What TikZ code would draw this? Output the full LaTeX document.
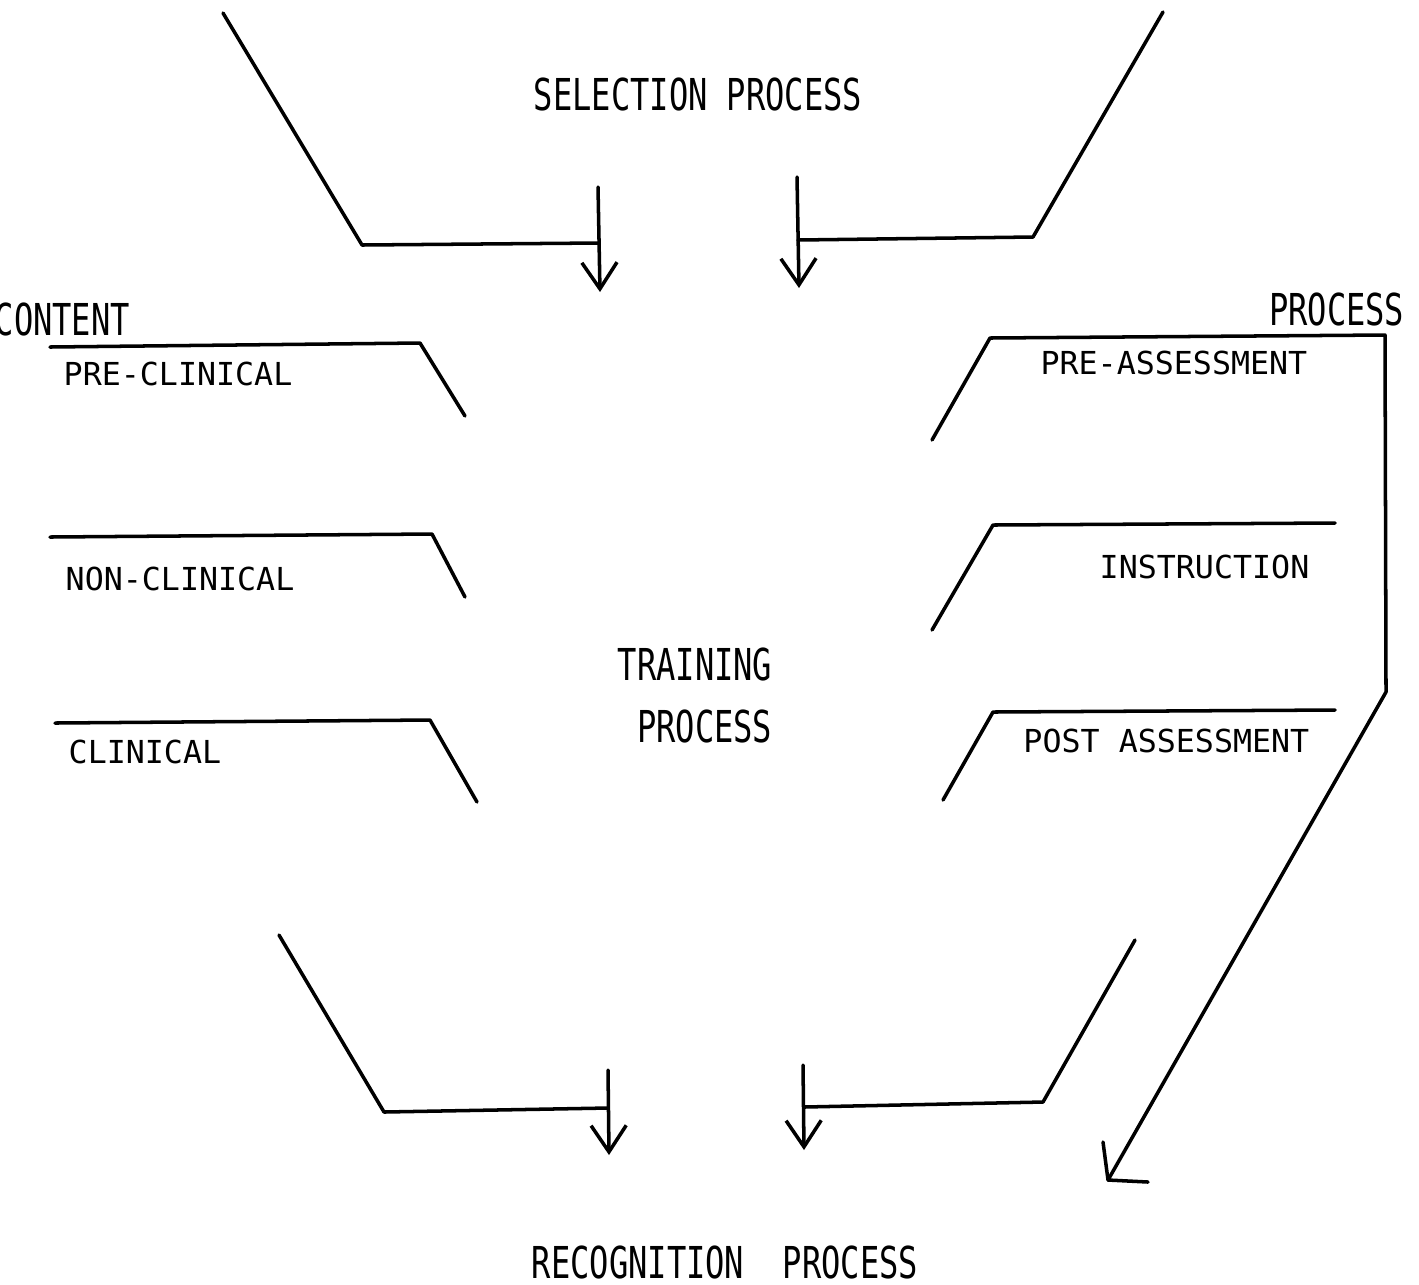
\documentclass[tikz,border=0pt]{standalone}
\usepackage{fontspec}
\usetikzlibrary{arrows.meta}
\newfontfamily\labelfont{DejaVu Sans Mono}
\newfontfamily\headfont[FakeStretch=0.73]{DejaVu Sans Mono}

\tikzset{
    flow/.style={line width=1pt, line join=round, line cap=round},
    drop/.style={flow, -{Straight Barb[length=7.5pt,width=10pt]}},
    head/.style={font=\headfont\fontsize{12.5}{14}\selectfont, inner sep=0pt},
    item/.style={font=\labelfont\fontsize{9}{11}\selectfont, inner sep=0pt},
}

\begin{document}
\begin{tikzpicture}[x=0.01cm,y=-0.01cm]
    \useasboundingbox (0,0) rectangle (1419,1284);

    % headings
    \node[head, anchor=base] (selection) at (698,110) {SELECTION PROCESS};
    \node[head, anchor=base west] (content) at (-6,335) {CONTENT};
    \node[head, anchor=base east] (process) at (1405,325) {PROCESS};
    \node[head, anchor=base east] (training) at (773,680) {TRAINING};
    \node[head, anchor=base east] (trainproc) at (773,742) {PROCESS};
    \node[head, anchor=base] (recognition) at (725,1278) {RECOGNITION\ \ PROCESS};

    % content items
    \node[item, anchor=base west] (preclin) at (63,385) {PRE-CLINICAL};
    \node[item, anchor=base west] (nonclin) at (65,590) {NON-CLINICAL};
    \node[item, anchor=base west] (clin) at (68,763) {CLINICAL};

    % process items
    \node[item, anchor=base east] (preass) at (1308,374) {PRE-ASSESSMENT};
    \node[item, anchor=base east] (instr) at (1310,578) {INSTRUCTION};
    \node[item, anchor=base east] (postass) at (1310,752) {POST ASSESSMENT};

    % selection funnel
    \coordinate (selLtop) at (223,13);
    \coordinate (selLbend) at (362,245);
    \coordinate (selLjoin) at (599,243);
    \coordinate (selLstart) at (598,187);
    \coordinate (selLtip) at (600,292);
    \coordinate (selRtop) at (1163,12);
    \coordinate (selRbend) at (1033,237);
    \coordinate (selRjoin) at (798,240);
    \coordinate (selRstart) at (797,177);
    \coordinate (selRtip) at (799,288);

    \draw[flow] (selLtop) -- (selLbend) -- (selLjoin);
    \draw[drop] (selLstart) -- (selLtip);
    \draw[flow] (selRtop) -- (selRbend) -- (selRjoin);
    \draw[drop] (selRstart) -- (selRtip);

    % content brackets
    \draw[flow] (50,347) -- (420,343) -- (465,416);
    \draw[flow] (50,537) -- (432,534) -- (465,597);
    \draw[flow] (55,723) -- (430,720) -- (477,802);

    % process brackets
    \coordinate (procA) at (932,440);
    \coordinate (procB) at (990,338);
    \coordinate (procC) at (1385,335);
    \coordinate (procD) at (1386,692);
    \coordinate (procTip) at (1108,1180);
    \coordinate (procBarbA) at (1103,1142);
    \coordinate (procBarbB) at (1148,1182);
    \draw[flow] (procA) -- (procB) -- (procC) -- (procD) -- (procTip);
    \draw[flow] (procBarbA) -- (procTip) -- (procBarbB);
    \draw[flow] (932,630) -- (993,525) -- (1335,523);
    \draw[flow] (943,800) -- (993,712) -- (1335,710);

    % recognition funnel
    \coordinate (recLtop) at (279,935);
    \coordinate (recLbend) at (384,1112);
    \coordinate (recLjoin) at (608,1108);
    \coordinate (recLstart) at (608,1070);
    \coordinate (recLtip) at (609,1155);
    \coordinate (recRtop) at (1135,940);
    \coordinate (recRbend) at (1043,1102);
    \coordinate (recRjoin) at (804,1107);
    \coordinate (recRstart) at (803,1065);
    \coordinate (recRtip) at (804,1150);

    \draw[flow] (recLtop) -- (recLbend) -- (recLjoin);
    \draw[drop] (recLstart) -- (recLtip);
    \draw[flow] (recRtop) -- (recRbend) -- (recRjoin);
    \draw[drop] (recRstart) -- (recRtip);
\end{tikzpicture}
\end{document}
